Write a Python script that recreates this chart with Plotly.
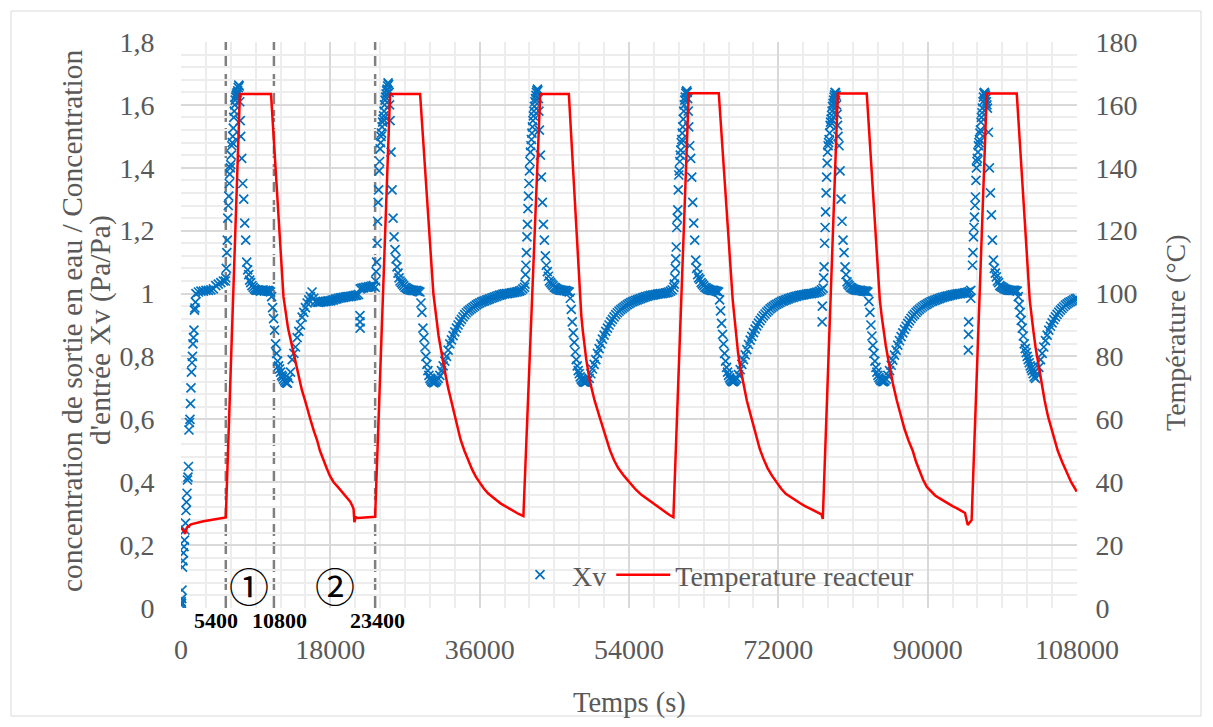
import plotly.graph_objects as go

# ---------------- DATA ----------------
# Xv start-up segment (before first heating), t in s
xv_start_t = [0, 30, 60, 90, 120, 180, 240, 300, 360, 420, 480, 540, 600, 660, 720, 780, 840, 900,
              960, 1020, 1080, 1140, 1200, 1260, 1320, 1380, 1440, 1500, 1560, 1620, 1680, 1740, 1800,
              2100, 2400, 2700, 3000, 3300, 3600, 3900, 4200, 4500, 4800, 5100, 5340]
xv_start_v = [0.01, 0.02, 0.015, 0.03, 0.057, 0.13, 0.15, 0.175, 0.195, 0.216, 0.248, 0.27, 0.31, 0.337,
              0.365, 0.407, 0.416, 0.45, 0.566, 0.59, 0.6, 0.65, 0.70, 0.75, 0.78, 0.80, 0.84, 0.86,
              0.884, 0.947, 0.954, 0.973, 1.0, 1.005, 1.008, 1.008, 1.01, 1.01, 1.012, 1.015, 1.025,
              1.03, 1.035, 1.04, 1.04]

# heating start of each cycle (s)
heat_starts = [5400, 23400, 41400, 59400, 77400, 95400]

# sampling offsets within a cycle (s after heating start)
cycle_offsets = [0, 60, 120, 180, 240, 300, 360, 420, 480, 540, 600, 660, 720, 780, 840, 900, 960,
                 1020, 1080, 1140, 1200, 1260, 1320, 1380, 1440, 1500, 1560, 1620, 1680, 1740, 1800,
                 1920, 2040, 2160, 2280, 2400, 2520, 2640, 2760, 2880, 3000,
                 3150, 3300, 3450, 3600, 3750, 3900, 4050, 4200, 4350, 4500, 4650, 4800, 4950, 5100,
                 5250, 5400,
                 5520, 5640, 5760, 5880, 6000, 6120, 6240, 6360, 6480, 6600, 6720, 6840, 6960, 7080,
                 7200, 7320, 7440,
                 7600, 7800, 8000, 8200, 8400, 8600, 8800, 9000, 9200, 9400, 9600, 9800, 10000, 10200,
                 10400, 10600, 10800, 11000, 11200, 11400, 11600, 11800, 12000, 12200, 12400, 12600,
                 12800, 13000, 13200, 13400, 13600, 13800, 14000, 14200, 14400, 14600, 14800, 15000,
                 15200, 15400, 15600, 15800, 16000, 16200, 16400, 16600, 16800, 17000, 17200, 17400,
                 17600, 17800]

xv_cycle1 = [1.05, 1.08, 1.13, 1.17, 1.24, 1.28, 1.31, 1.35, 1.38, 1.40, 1.41, 1.44, 1.47, 1.48, 1.50,
             1.526, 1.56, 1.58, 1.60, 1.615, 1.625, 1.63, 1.635, 1.64, 1.645, 1.655, 1.663, 1.66, 1.61,
             1.55, 1.50,
             1.43, 1.35, 1.30, 1.224, 1.17, 1.10, 1.075, 1.06, 1.043, 1.035,
             1.025, 1.02, 1.015, 1.012, 1.01, 1.012, 1.01, 1.008, 1.01, 1.012, 1.008, 1.01, 1.008,
             1.01, 1.008, 1.005,
             0.99, 0.955, 0.92, 0.884, 0.84, 0.81, 0.785, 0.77, 0.76, 0.75, 0.74, 0.735, 0.728, 0.722,
             0.718, 0.716, 0.715,
             0.73, 0.75, 0.79, 0.81, 0.83, 0.86, 0.88, 0.90, 0.925, 0.94, 0.955, 0.97, 0.98, 0.99,
             1.005, 0.985, 0.975, 0.973, 0.972, 0.973, 0.974, 0.974, 0.975, 0.976, 0.977, 0.977,
             0.979, 0.98, 0.982, 0.983, 0.985, 0.986, 0.987, 0.988, 0.989, 0.99, 0.99, 0.991,
             0.992, 0.993, 0.994, 0.995, 0.997, 1.015, 1.017, 1.018, 1.02, 1.02, 1.021, 1.022,
             1.024, 1.025]
xv_cycle2 = [1.02, 1.04, 1.07, 1.10, 1.16, 1.23, 1.29, 1.33, 1.39, 1.42, 1.46, 1.48, 1.50, 1.51, 1.53,
             1.545, 1.555, 1.565, 1.58, 1.60, 1.615, 1.625, 1.635, 1.645, 1.65, 1.66, 1.67, 1.665,
             1.64, 1.60, 1.55,
             1.45, 1.33, 1.24, 1.18, 1.14, 1.11, 1.085, 1.065, 1.05, 1.04,
             1.035, 1.03, 1.025, 1.02, 1.018, 1.015, 1.013, 1.012, 1.011, 1.01, 1.01, 1.009, 1.01,
             1.008, 1.007, 1.005,
             0.97, 0.94, 0.89, 0.86, 0.83, 0.80, 0.775, 0.755, 0.74, 0.73, 0.725, 0.72, 0.718, 0.716,
             0.718, 0.72, 0.725,
             0.73, 0.74, 0.755, 0.77, 0.785, 0.80, 0.82, 0.84, 0.853, 0.866, 0.878, 0.89, 0.9, 0.91,
             0.918, 0.926, 0.933, 0.939, 0.944, 0.948, 0.952, 0.956, 0.96, 0.964, 0.967, 0.97,
             0.973, 0.975, 0.977, 0.979, 0.981, 0.983, 0.985, 0.987, 0.989, 0.991, 0.993, 0.995,
             0.996, 0.998, 0.999, 1.0, 1.0, 1.001, 1.002, 1.003, 1.004, 1.005, 1.006, 1.008,
             1.01, 1.015]
xv_cycle3 = [1.02, 1.03, 1.06, 1.09, 1.13, 1.18, 1.22, 1.27, 1.31, 1.35, 1.39, 1.42, 1.45, 1.47, 1.49,
             1.51, 1.53, 1.55, 1.565, 1.58, 1.595, 1.61, 1.62, 1.63, 1.64, 1.645, 1.65, 1.645, 1.62,
             1.58, 1.52,
             1.44, 1.37, 1.29, 1.22, 1.17, 1.12, 1.09, 1.07, 1.055, 1.04,
             1.035, 1.03, 1.025, 1.02, 1.018, 1.015, 1.013, 1.012, 1.011, 1.01, 1.01, 1.009, 1.01,
             1.008, 1.007, 1.005,
             0.985, 0.95, 0.91, 0.875, 0.845, 0.815, 0.79, 0.77, 0.755, 0.745, 0.735, 0.728, 0.724,
             0.72, 0.718, 0.718, 0.72,
             0.722, 0.73, 0.745, 0.76, 0.775, 0.79, 0.81, 0.825, 0.84, 0.855, 0.868, 0.88, 0.89, 0.9,
             0.91, 0.918, 0.926, 0.933, 0.939, 0.944, 0.949, 0.953, 0.957, 0.961, 0.965, 0.968,
             0.971, 0.974, 0.976, 0.978, 0.98, 0.982, 0.984, 0.986, 0.988, 0.99, 0.991, 0.993,
             0.994, 0.995, 0.996, 0.997, 0.998, 0.999, 1.0, 1.0, 1.001, 1.002, 1.003, 1.005,
             1.008, 1.012]
xv_cycle4 = [1.02, 1.03, 1.05, 1.08, 1.11, 1.148, 1.21, 1.24, 1.266, 1.33, 1.377, 1.39, 1.42, 1.44,
             1.456, 1.48, 1.49, 1.51, 1.53, 1.555, 1.58, 1.60, 1.615, 1.625, 1.637, 1.642, 1.645, 1.64,
             1.62, 1.58, 1.53,
             1.47, 1.43, 1.37, 1.29, 1.224, 1.17, 1.106, 1.08, 1.06, 1.05,
             1.045, 1.035, 1.03, 1.025, 1.02, 1.018, 1.015, 1.013, 1.012, 1.01, 1.01, 1.01, 1.009,
             1.008, 1.007, 1.005,
             0.98, 0.945, 0.905, 0.87, 0.84, 0.81, 0.785, 0.765, 0.75, 0.74, 0.732, 0.726, 0.722, 0.72,
             0.72, 0.722, 0.726,
             0.73, 0.742, 0.758, 0.775, 0.79, 0.805, 0.822, 0.838, 0.852, 0.864, 0.876, 0.887, 0.897,
             0.906, 0.914, 0.922, 0.929, 0.935, 0.941, 0.946, 0.951, 0.955, 0.959, 0.963, 0.966,
             0.969, 0.972, 0.975, 0.977, 0.979, 0.981, 0.983, 0.985, 0.987, 0.988, 0.99, 0.991,
             0.993, 0.994, 0.995, 0.996, 0.997, 0.998, 0.999, 1.0, 1.0, 1.001, 1.002, 1.004, 1.005,
             1.008, 1.012]
xv_cycle5 = [1.017, 1.05, 1.085, 1.16, 1.21, 1.26, 1.32, 1.37, 1.415, 1.45, 1.47, 1.48, 1.49, 1.51,
             1.535, 1.545, 1.555, 1.567, 1.58, 1.595, 1.605, 1.615, 1.625, 1.632, 1.64, 1.638, 1.63,
             1.60, 1.57, 1.535, 1.50,
             1.47, 1.39, 1.30, 1.23, 1.17, 1.13, 1.085, 1.06, 1.037, 1.03,
             1.025, 1.02, 1.018, 1.015, 1.013, 1.012, 1.011, 1.01, 1.01, 1.01, 1.009, 1.008, 1.008,
             1.008, 1.007, 1.005,
             0.975, 0.94, 0.9, 0.865, 0.835, 0.81, 0.785, 0.765, 0.75, 0.74, 0.733, 0.728, 0.724, 0.722,
             0.72, 0.72, 0.722,
             0.728, 0.74, 0.755, 0.772, 0.788, 0.804, 0.82, 0.836, 0.85, 0.863, 0.875, 0.886, 0.896,
             0.905, 0.913, 0.921, 0.928, 0.934, 0.94, 0.945, 0.95, 0.954, 0.958, 0.962, 0.965,
             0.968, 0.971, 0.974, 0.976, 0.978, 0.98, 0.982, 0.984, 0.986, 0.988, 0.989, 0.991,
             0.992, 0.993, 0.995, 0.996, 0.997, 0.998, 0.999, 1.0, 1.0, 1.001, 1.002, 1.003, 1.004,
             1.006, 1.01]
xv_cycle6 = [1.09, 1.13, 1.18, 1.21, 1.243, 1.28, 1.307, 1.36, 1.40, 1.42, 1.43, 1.45, 1.47, 1.48, 1.49,
             1.51, 1.52, 1.545, 1.56, 1.575, 1.59, 1.61, 1.625, 1.637, 1.64, 1.635, 1.63, 1.62, 1.61,
             1.60, 1.59,
             1.513, 1.40, 1.32, 1.25, 1.17, 1.106, 1.08, 1.065, 1.053, 1.04,
             1.035, 1.025, 1.022, 1.02, 1.017, 1.015, 1.013, 1.012, 1.011, 1.01, 1.01, 1.01, 1.01,
             1.01, 1.009, 1.008,
             0.99, 0.965, 0.94, 0.915, 0.89, 0.865, 0.84, 0.825, 0.812, 0.8, 0.79, 0.78, 0.77, 0.762,
             0.755, 0.745, 0.735,
             0.73, 0.745, 0.765, 0.79, 0.81, 0.83, 0.85, 0.868, 0.884, 0.896, 0.907, 0.917, 0.926,
             0.934, 0.941, 0.947, 0.953, 0.958, 0.963, 0.967, 0.971, 0.974, 0.977, 0.98, 0.983, 0.985]
xv_cycles = [xv_cycle1, xv_cycle2, xv_cycle3, xv_cycle4, xv_cycle5, xv_cycle6]

# isolated Xv readings
xv_extra_t = [21570, 21580, 21590, 77280, 77300, 94900, 94920, 94940, 95200]
xv_extra_v = [0.93, 0.91, 0.89, 0.91, 0.96, 0.82, 0.87, 0.91, 0.985]

# Reactor temperature (°C)
temp_t = [0, 250, 480, 720, 1200, 1800, 2700, 3600, 4500, 5400,
          7100, 10850, 12350, 12600, 12900, 13200, 13500, 13850, 14200, 14550, 14950, 15300, 15700,
          16050, 16390, 16750, 17150, 17550, 17950, 18400, 18900, 19450, 20000, 20400, 20700, 20800,
          20900, 21050, 21300, 22400, 23400,
          25200, 28820, 30420, 30600, 30800, 31050, 31350, 31600, 31900, 32200, 32560, 32900, 33300,
          33700, 34160, 34600, 35100, 35550, 36050, 36500, 37000, 37500, 38070, 38550, 39100, 39650,
          40200, 40700, 41270,
          43300, 46750, 48080, 48250, 48440, 48850, 49290, 49850, 50490, 51100, 51700, 52200, 52700,
          53400, 54100, 54800, 55500, 56200, 56880, 57450, 58000, 58500, 58930, 59350,
          61200, 64820, 66500, 66700, 66900, 67150, 67450, 67800, 68200, 68650, 69100, 69450, 69770,
          70200, 70700, 71250, 71820, 72350, 72900, 73700, 74590, 75150, 75700, 76200, 76640, 77200,
          77360,
          79170, 82660, 84230, 84450, 84700, 84950, 85250, 85500, 85800, 86280, 86700, 87200, 87700,
          88200, 88600, 89000, 89450, 89900, 90400, 90900, 91350, 91820, 92400, 93000, 93600, 94230,
          94500, 94830, 95100, 95300,
          97120, 100740, 102300, 102500, 102750, 103000, 103300, 103700, 104100, 104500, 104900,
          105300, 105680, 106200, 106700, 107300, 107970]
temp_v = [25.5, 24.8, 23.6, 25.6, 26.6, 27.1, 27.6, 28.0, 28.4, 28.8,
          163.5, 163.5, 99, 94, 89, 85.5, 82, 77.5, 73, 69.5, 66, 62.5, 59,
          56, 53.5, 50, 47, 44.5, 42, 40, 38.5, 36.8, 35.3, 33.8, 32.2, 31.5,
          27.3, 28.9, 28.6, 28.9, 29.0,
          163.5, 163.5, 100, 95.5, 91, 86.5, 82, 78, 74, 70, 66, 62, 57.5,
          53.5, 50, 47, 44, 41.7, 39.6, 38, 36.5, 35.3, 34.2, 33.2, 32.3, 31.4,
          30.6, 29.9, 29.2,
          163.5, 163.5, 98, 93, 88, 79, 72, 66, 60.5, 55, 50.2, 47, 44.5,
          42, 39.7, 37.7, 36, 34.6, 33.4, 32.2, 31.2, 30.3, 29.5, 28.9,
          163.7, 163.7, 98, 92.5, 87, 81, 76, 71, 66, 61.5, 57, 53.5, 50.5,
          47.5, 44.5, 42, 39.7, 37.9, 36.3, 34.8, 33.4, 32.5, 31.8, 31.1, 30.5, 29.8,
          28.3,
          163.6, 163.6, 98, 93, 88, 83.5, 79, 75, 71.5, 66, 61.5, 57, 53.2,
          50, 46.5, 43.5, 40.8, 38.5, 37, 35.8, 35, 34.2, 33.3, 32.4, 31.6, 30.8,
          30.2, 26.4, 27.2, 28.0,
          163.6, 163.6, 98, 93, 88, 83, 78, 72, 66, 61, 57,
          53.3, 50, 46.5, 43.5, 40, 37]

# axis ticks
x_tick_vals = [0, 18000, 36000, 54000, 72000, 90000, 108000]
x_tick_text = ["0", "18000", "36000", "54000", "72000", "90000", "108000"]
y_tick_vals = [0, 0.2, 0.4, 0.6, 0.8, 1.0, 1.2, 1.4, 1.6, 1.8]
y_tick_text = ["0", "0,2", "0,4", "0,6", "0,8", "1", "1,2", "1,4", "1,6", "1,8"]
y2_tick_vals = [0, 20, 40, 60, 80, 100, 120, 140, 160, 180]
y2_tick_text = ["0", "20", "40", "60", "80", "100", "120", "140", "160", "180"]

# phase markers
phase_lines_x = [5400, 11200, 23400]
phase_labels = ["5400", "10800", "23400"]
phase_label_shift = [-10, 6, 2]

assert len(xv_start_t) == len(xv_start_v)
assert len(temp_t) == len(temp_v), (len(temp_t), len(temp_v))
for c in xv_cycles[:5]:
    assert len(c) == len(cycle_offsets), (len(c), len(cycle_offsets))

# ---------------- BUILD ----------------
xv_t = list(xv_start_t)
xv_v = list(xv_start_v)
for s, vals in zip(heat_starts, xv_cycles):
    for o, v in zip(cycle_offsets, vals):
        xv_t.append(s + o)
        xv_v.append(v)
xv_t += xv_extra_t
xv_v += xv_extra_v

SERIF = "Liberation Serif, Times New Roman, serif"
GRAY = "#595959"

# page offset: the html body has an 8px margin
W, H = 1197, 711
PL, PT, PW, PH = 173, 34, 896, 566


def px_x(px):  # page pixel -> paper x
    return (px - 8 - PL) / PW


def px_y(py):  # page pixel -> paper y
    return (PT + PH - (py - 8)) / PH


fig = go.Figure()
fig.add_trace(go.Scatter(
    x=xv_t, y=xv_v, mode="markers", name="Xv",
    marker=dict(symbol="x-thin", size=9, color="#0070C0",
                line=dict(width=1.7, color="#0070C0")),
    yaxis="y"))
fig.add_trace(go.Scatter(
    x=temp_t, y=temp_v, mode="lines", name="Temperature reacteur",
    line=dict(color="#FF0000", width=2.5), yaxis="y2"))

x_minor = [v for v in range(0, 108001, 3000)]
y_minor = [round(i * 0.04, 2) for i in range(0, 46)]

fig.update_layout(
    width=W, height=H,
    margin=dict(l=PL, r=W - PL - PW, t=PT, b=H - PT - PH),
    paper_bgcolor="white", plot_bgcolor="white",
    font=dict(family=SERIF, size=28, color=GRAY),
    xaxis=dict(range=[0, 108000], tickmode="array", tickvals=x_tick_vals, ticktext=x_tick_text,
               showgrid=True, gridcolor="#D9D9D9", gridwidth=2,
               minor=dict(tickmode="array", tickvals=x_minor, showgrid=True,
                          gridcolor="#EDEDED", gridwidth=2),
               ticks="outside", ticklen=16, tickcolor="rgba(0,0,0,0)",
               tickfont=dict(family=SERIF, size=28, color=GRAY),
               zeroline=False, showline=False),
    yaxis=dict(range=[0, 1.8], tickmode="array", tickvals=y_tick_vals, ticktext=y_tick_text,
               showgrid=True, gridcolor="#D9D9D9", gridwidth=2,
               minor=dict(tickmode="array", tickvals=y_minor, showgrid=True,
                          gridcolor="#EDEDED", gridwidth=2),
               ticks="outside", ticklen=20, tickcolor="rgba(0,0,0,0)",
               tickfont=dict(family=SERIF, size=28, color=GRAY),
               zeroline=False, showline=False),
    yaxis2=dict(range=[0, 180], overlaying="y", side="right", tickmode="array",
                tickvals=y2_tick_vals, ticktext=y2_tick_text, showgrid=False,
                ticks="outside", ticklen=12, tickcolor="rgba(0,0,0,0)",
                tickfont=dict(family=SERIF, size=28, color=GRAY),
                zeroline=False, showline=False),
    legend=dict(orientation="h", x=px_x(508), y=px_y(575), xanchor="left", yanchor="middle",
                bgcolor="rgba(0,0,0,0)", font=dict(family=SERIF, size=28, color=GRAY),
                itemwidth=54),
    showlegend=True,
)

# outer chart border
fig.add_shape(type="rect", xref="paper", yref="paper",
              x0=px_x(11), x1=px_x(1201), y0=px_y(716), y1=px_y(11),
              line=dict(color="#D9D9D9", width=1), fillcolor="rgba(0,0,0,0)", layer="below")

for xl, lab, sh in zip(phase_lines_x, phase_labels, phase_label_shift):
    fig.add_shape(type="line", xref="x", yref="paper", x0=xl, x1=xl, y0=0, y1=1,
                  line=dict(color="#808080", width=2.5, dash="12px,6px"), layer="below")
    fig.add_annotation(x=xl, xref="x", y=px_y(620), yref="paper", text=lab,
                       showarrow=False, xshift=sh, xanchor="center", yanchor="middle",
                       font=dict(family=SERIF, size=22, color="black", weight="bold"))

# circled phase numbers
for txt, px in [("①", 249), ("②", 335)]:
    fig.add_annotation(x=px_x(px), xref="paper", y=px_y(585), yref="paper",
                       text=txt, showarrow=False, xanchor="center", yanchor="middle",
                       font=dict(family="Noto Sans CJK JP", size=40, color="black"))

# axis titles
fig.add_annotation(x=px_x(72), xref="paper", y=px_y(321), yref="paper",
                   text="concentration de sortie en eau / Concentration", textangle=-90,
                   showarrow=False, xanchor="center", yanchor="middle",
                   font=dict(family=SERIF, size=29.5, color=GRAY))
fig.add_annotation(x=px_x(100), xref="paper", y=px_y(330), yref="paper",
                   text="d'entrée Xv (Pa/Pa)", textangle=-90,
                   showarrow=False, xanchor="center", yanchor="middle",
                   font=dict(family=SERIF, size=29.5, color=GRAY))
fig.add_annotation(x=px_x(1175), xref="paper", y=px_y(333), yref="paper",
                   text="Température (°C)", textangle=-90,
                   showarrow=False, xanchor="center", yanchor="middle",
                   font=dict(family=SERIF, size=28, color=GRAY))
fig.add_annotation(x=px_x(629), xref="paper", y=px_y(703), yref="paper",
                   text="Temps (s)", showarrow=False, xanchor="center", yanchor="middle",
                   font=dict(family=SERIF, size=28.5, color=GRAY))

fig.write_html("out.html")
